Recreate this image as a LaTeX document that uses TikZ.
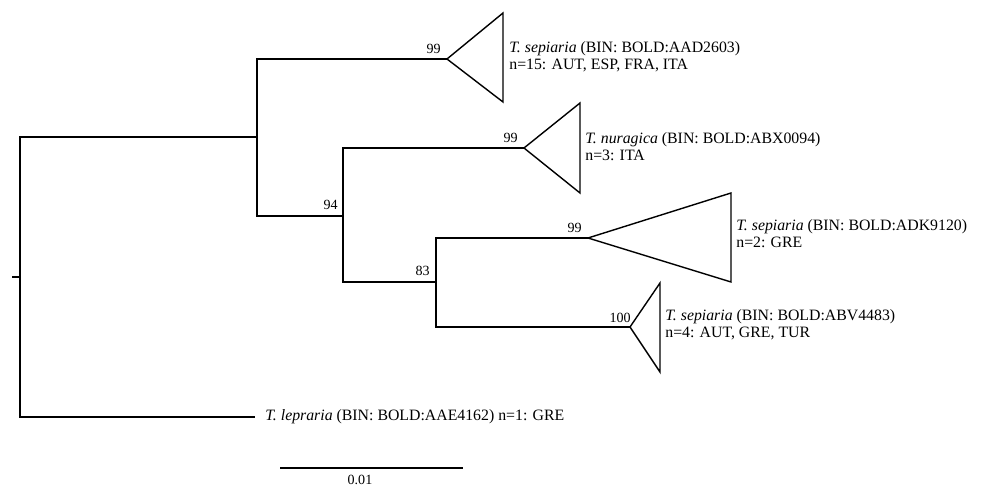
\documentclass[tikz,border=0pt]{standalone}
\usepackage{fontspec}
\setmainfont{Liberation Serif}
\usetikzlibrary{positioning}

\begin{document}
\begin{tikzpicture}[x=0.02cm, y=-0.02cm,
  every node/.style={inner sep=0pt},
  br/.style={line width=0.8pt, line join=miter},
  tri/.style={line width=0.8pt, line join=miter},
  bs/.style={font=\fontsize{8}{8}\selectfont},
  taxon/.style={anchor=west, align=left, font=\fontsize{9}{9.6}\selectfont}]

  \useasboundingbox (0,0) rectangle (985,489);

  % inner nodes of the tree
  \coordinate (stem) at (12,277);
  \coordinate (root) at (20,277);
  \coordinate (nA) at (257,137);
  \coordinate (nB) at (343,216);
  \coordinate (nC) at (436,282);
  % collapsed clades (apex of each triangle)
  \coordinate (c1) at (447,59);
  \coordinate (c2) at (524,148);
  \coordinate (c3) at (588,238);
  \coordinate (c4) at (630,327);
  \coordinate (lep) at (255,417);

  \draw[br] (stem) -- (root);
  \draw[br] (root) |- (nA);
  \draw[br] (root) |- (lep);
  \draw[br] (nA) |- (c1);
  \draw[br] (nA) |- (nB);
  \draw[br] (nB) |- (c2);
  \draw[br] (nB) |- (nC);
  \draw[br] (nC) |- (c3);
  \draw[br] (nC) |- (c4);

  \foreach \a/\w/\u/\d in {c1/56/46/43, c2/56/45/45, c3/143/45/44, c4/30/44/45}
     \draw[tri] (\a) -- ++(\w,-\u) -- ++(0,\u+\d) -- cycle;

  % bootstrap values
  \node[bs, above left=0.1cm and 0.12cm of c1] (b1) {99};
  \node[bs, above left=0.1cm and 0.12cm of c2] (b2) {99};
  \node[bs, above left=0.1cm and 0.12cm of c3] (b3) {99};
  \node[bs, above left=0.08cm and -0.02cm of c4] (b4) {100};
  \node[bs, above left=0.12cm and 0.1cm of nB] (b5) {94};
  \node[bs, above left=0.12cm and 0.12cm of nC] (b6) {83};

  % clade labels
  \node[taxon] (t1) at (509,57)
     {\textit{T. sepiaria} (BIN: BOLD:AAD2603)\\n=15: AUT, ESP, FRA, ITA};
  \node[taxon] (t2) at (585,147)
     {\textit{T. nuragica} (BIN: BOLD:ABX0094)\\n=3: ITA};
  \node[taxon] (t3) at (736,234)
     {\textit{T. sepiaria} (BIN: BOLD:ADK9120)\\n=2: GRE};
  \node[taxon] (t4) at (665,325)
     {\textit{T. sepiaria} (BIN: BOLD:ABV4483)\\n=4: AUT, GRE, TUR};
  \node[taxon, right=0.2cm of lep] (tL)
     {\textit{T. lepraria} (BIN: BOLD:AAE4162) n=1: GRE};

  % scale bar
  \coordinate (s0) at (280,468);
  \coordinate (s1) at (463,468);
  \draw[br] (s0) -- (s1);
  \node[bs] (sl) at (360,480) {0.01};
\end{tikzpicture}
\end{document}
